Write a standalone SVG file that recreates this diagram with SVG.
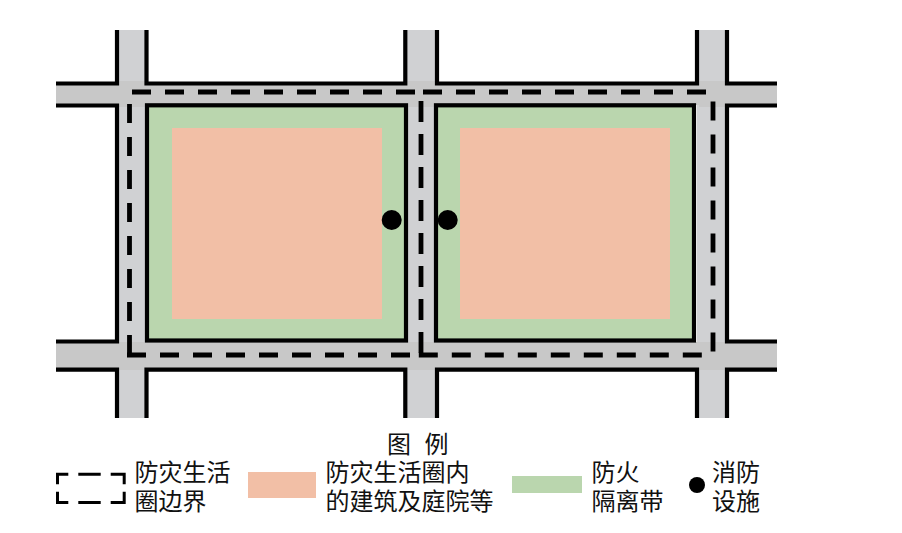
<svg xmlns="http://www.w3.org/2000/svg" width="902" height="533" viewBox="0 0 902 533">
<style>
.vroad{fill:#d0d1d3}
.hroad{fill:#c8c8c8}
.edge{fill:none;stroke:#000;stroke-width:4.2}
.block{fill:#bad6ae;stroke:#000;stroke-width:4.2}
.core{fill:#f2bfa6}
.dash{fill:none;stroke:#000;stroke-width:4.8}
.d19{stroke-dasharray:19 14}
.d21{stroke-dasharray:21 12}
.key{fill:none;stroke:#000;stroke-width:3}
.dot{fill:#000}
text{font-family:"Noto Sans CJK SC","Noto Sans",sans-serif;font-size:24px;fill:#111}
</style>
<rect width="902" height="533" fill="#fff"/>
<g id="roads">
<rect class="vroad" x="117" y="30" width="30" height="388"/>
<rect class="vroad" x="405" y="30" width="32" height="388"/>
<rect class="vroad" x="697" y="30" width="30" height="388"/>
<rect class="hroad" x="56" y="84" width="721" height="21"/>
<rect class="hroad" x="56" y="342" width="721" height="28"/>
<rect class="hroad" x="119" y="81" width="26" height="26"/>
<rect class="hroad" x="407" y="81" width="28" height="26"/>
<rect class="hroad" x="699" y="81" width="26" height="26"/>
<rect class="hroad" x="119" y="342" width="26" height="27"/>
<rect class="hroad" x="407" y="342" width="28" height="27"/>
<rect class="hroad" x="699" y="342" width="26" height="27"/>
</g>
<g id="road-edges">
<path class="edge" d="M117 30V83.500H56M146.500 30V83.500H405.300V30M437 30V83.500H697V30M727 30V83.500H777"/>
<path class="edge" d="M56 105.500H117V341.500H56M777 105.500H727V341.500H777"/>
<path class="edge" d="M56 369.700H117V418M146.500 418V369.700H405.300V418M437 418V369.700H697V418M727 418V369.700H777"/>
</g>
<g id="block-left">
<rect class="block" x="147" y="105.300" width="259" height="235.200"/>
<rect class="core" x="172" y="128" width="210" height="191"/>
</g>
<g id="block-right">
<rect class="block" x="436" y="105.300" width="258" height="235.200"/>
<rect class="core" x="460" y="128" width="210" height="191"/>
</g>
<g id="connectors">
<path class="dash d19" d="M132 92H417"/>
<path class="dash d19" d="M423 92H708"/>
<path class="dash d19" d="M129.500 104V355"/>
<path class="dash d19" d="M127 355H411"/>
<path class="dash d19" d="M418.800 355H702"/>
<path class="dash d21" d="M421 101V355"/>
<path class="dash d19" d="M713 101.500V353"/>
</g>
<g id="facility-left"><circle class="dot" cx="391.700" cy="220" r="10"/></g>
<g id="facility-right"><circle class="dot" cx="447.700" cy="220" r="10"/></g>
<g id="legend-title"><text x="387" y="453" style="word-spacing:8px">图 例</text></g>
<g id="legend-boundary">
<path class="key" d="M57.500 484.300V474.200H68.300M78.300 474.200H100.700M110.700 474.200H124.200V484.300M57.500 491.700V502.500H68.300M78.300 502.500H100.700M110.700 502.500H124.200V491.700"/>
<text x="134.500" y="481">防灾生活</text>
<text x="134.500" y="510">圈边界</text>
</g>
<g id="legend-zone">
<rect class="core" x="248" y="472" width="68" height="26"/>
<text x="325.500" y="481">防灾生活圈内</text>
<text x="325.500" y="510">的建筑及庭院等</text>
</g>
<g id="legend-belt">
<rect fill="#bad6ae" x="512" y="476" width="70" height="17"/>
<text x="591.500" y="481">防火</text>
<text x="591.500" y="510">隔离带</text>
</g>
<g id="legend-facility">
<circle class="dot" cx="697" cy="485" r="8"/>
<text x="712" y="481">消防</text>
<text x="712" y="510">设施</text>
</g>
</svg>
